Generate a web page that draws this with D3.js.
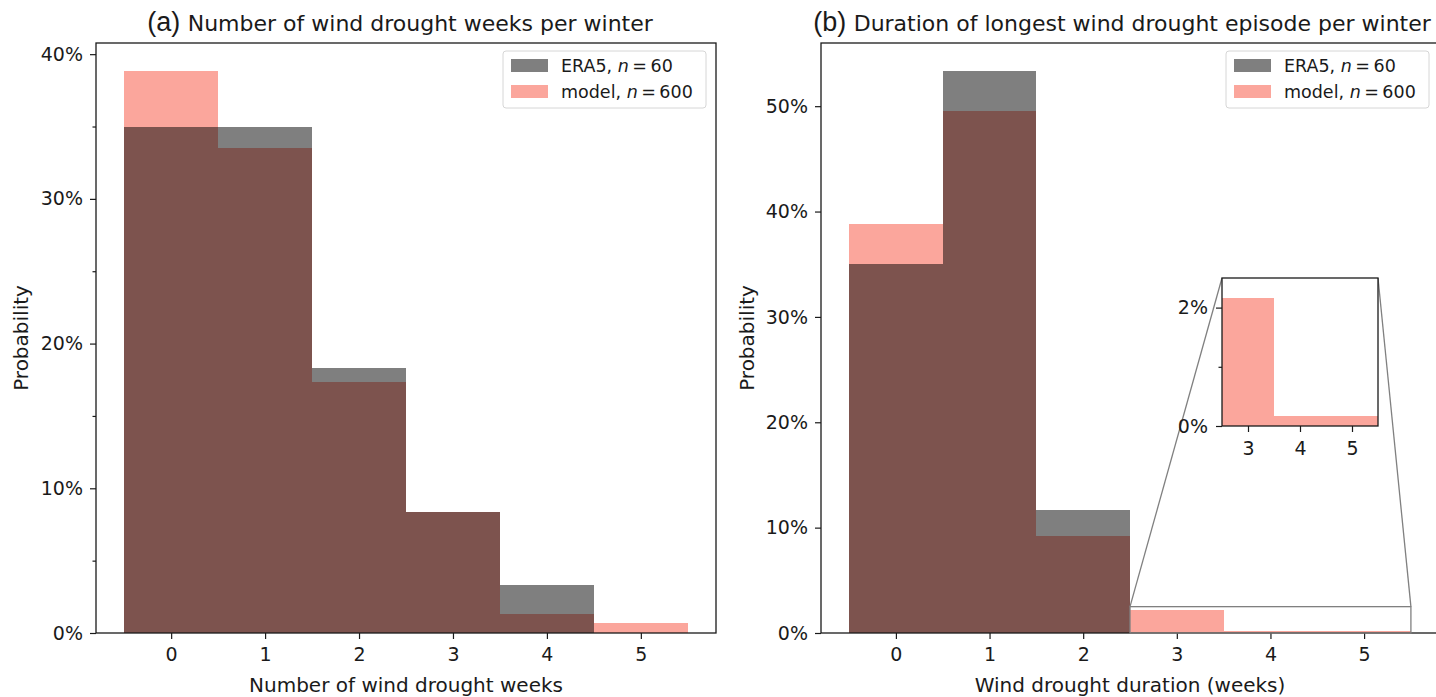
<!DOCTYPE html>
<html>
<head>
<meta charset="utf-8">
<script src="https://cdn.jsdelivr.net/npm/d3@7"></script>
<style>
  body { margin: 0; background: #fff; }
  svg text { font-family: "DejaVu Sans", sans-serif; fill: #1a1a1a; }
</style>
</head>
<body>
<svg id="chart" width="1436" height="697"></svg>
<script>
// bins (weeks)
const bins = [0, 1, 2, 3, 4, 5];

// (a) number of wind drought weeks per winter, in %
const weeksEra5 = [35.0, 35.0, 18.33, 8.33, 3.33, 0];
const weeksModel = [38.83, 33.5, 17.33, 8.33, 1.33, 0.67];

// (b) duration of longest episode, in %
const durEra5 = [35.0, 53.33, 11.67, 0, 0, 0];
const durModel = [38.83, 49.5, 9.17, 2.17, 0.17, 0.17];

const seriesNames = ["ERA5, ", "model, "];
const seriesN = [60, 600];
const era5Color = "#000000", era5Alpha = 0.5;
const modelColor = "#fa8072", modelAlpha = 0.7;

const tickFont = 19;
const svg = d3.select("#chart");

function panel(opt) {
  let g = svg.append("g");
  let x = d3.scaleLinear().domain([-0.8, 5.8]).range([opt.left, opt.right]);
  let y = d3.scaleLinear().domain([0, opt.ymax]).range([633, 43]);

  // bars: model first, ERA5 over it
  g.append("g").selectAll("rect").data(bins).join("rect")
    .attr("shape-rendering", "crispEdges")
    .attr("x", d => x(d - 0.5)).attr("width", d => x(d + 0.5) - x(d - 0.5))
    .attr("y", (d, i) => y(opt.model[i])).attr("height", (d, i) => y(0) - y(opt.model[i]))
    .attr("fill", modelColor).attr("fill-opacity", modelAlpha);
  g.append("g").selectAll("rect").data(bins).join("rect")
    .attr("shape-rendering", "crispEdges")
    .attr("x", d => x(d - 0.5)).attr("width", d => x(d + 0.5) - x(d - 0.5))
    .attr("y", (d, i) => y(opt.era5[i])).attr("height", (d, i) => y(0) - y(opt.era5[i]))
    .attr("fill", era5Color).attr("fill-opacity", era5Alpha);

  // axes
  g.append("g").attr("transform", "translate(0,633)")
    .call(d3.axisBottom(x).tickValues(bins).tickSize(6).tickPadding(9).tickFormat(d3.format("d")));
  g.append("g").attr("transform", `translate(${opt.left},0)`)
    .call(d3.axisLeft(y).tickValues(opt.yticks).tickSize(6).tickPadding(7).tickFormat(d => d + "%"));
  if (opt.minor) {
    g.append("g").attr("transform", `translate(${opt.left},0)`)
      .call(d3.axisLeft(y).tickValues(opt.minor).tickSize(3.5).tickFormat(""));
  }
  g.selectAll(".tick line").attr("stroke", "#1a1a1a").attr("stroke-width", 1.2);
  g.selectAll(".tick text").attr("font-size", tickFont).attr("fill", "#1a1a1a");
  g.selectAll(".domain").remove();

  // frame
  g.append("rect").attr("x", opt.left).attr("y", 43)
    .attr("width", opt.right - opt.left).attr("height", 590)
    .attr("fill", "none").attr("stroke", "#1a1a1a").attr("stroke-width", 1.3);

  // title
  let t = g.append("text").attr("x", (opt.left + opt.right) / 2 + opt.titleShift).attr("y", 31)
    .attr("text-anchor", "middle");
  t.append("tspan").attr("font-family", "Liberation Sans, sans-serif").attr("font-size", 27).text(opt.tag + " ");
  t.append("tspan").attr("font-size", 22).text(opt.title);

  g.append("text").attr("x", (opt.left + opt.right) / 2).attr("y", 692)
    .attr("text-anchor", "middle").attr("font-size", 20).text(opt.xlabel);
  g.append("text").attr("transform", `translate(${opt.ylabelX},338) rotate(-90)`)
    .attr("text-anchor", "middle").attr("font-size", 20).text("Probability");

  // legend
  let lg = g.append("g").attr("transform", `translate(${opt.right - 213},51)`);
  lg.append("rect").attr("width", 203).attr("height", 57).attr("rx", 3)
    .attr("fill", "#fff").attr("fill-opacity", 0.8).attr("stroke", "#d6d6d6");
  [[era5Color, era5Alpha], [modelColor, modelAlpha]].forEach((c, i) => {
    lg.append("rect").attr("x", 8).attr("y", 8 + i * 26).attr("width", 37).attr("height", 13)
      .attr("fill", c[0]).attr("fill-opacity", c[1]);
    let tx = lg.append("text").attr("x", 58).attr("y", 21 + i * 26).attr("font-size", 17.5);
    tx.append("tspan").text(seriesNames[i]);
    tx.append("tspan").attr("font-style", "italic").text("n");
    tx.append("tspan").text("\u2009=\u2009" + seriesN[i]);
  });
  return {g, x, y};
}

panel({
  left: 96, right: 716, ymax: 38.83 * 1.05,
  era5: weeksEra5, model: weeksModel,
  yticks: [0, 10, 20, 30, 40], minor: [5, 15, 25, 35],
  tag: "(a)", title: "Number of wind drought weeks per winter", titleShift: -6,
  xlabel: "Number of wind drought weeks", ylabelX: 28
});

let pb = panel({
  left: 821, right: 1439, ymax: 53.33 * 1.05,
  era5: durEra5, model: durModel,
  yticks: [0, 10, 20, 30, 40, 50], minor: null,
  tag: "(b)", title: "Duration of longest wind drought episode per winter", titleShift: -8,
  xlabel: "Wind drought duration (weeks)", ylabelX: 754
});

// inset zoom on bins 3..5 of panel (b)
const insetBins = [3, 4, 5];
const insetModel = durModel.slice(3);
const ix = d3.scaleLinear().domain([2.5, 5.5]).range([1222, 1378]);
const iy = d3.scaleLinear().domain([0, 2.5]).range([426, 278]);

// indicator box and connectors
const zoomCol = "#808080";
pb.g.append("rect").attr("x", pb.x(2.5)).attr("y", pb.y(2.5))
  .attr("width", pb.x(5.5) - pb.x(2.5)).attr("height", pb.y(0) - pb.y(2.5))
  .attr("fill", "none").attr("stroke", zoomCol).attr("stroke-width", 1.3);
pb.g.append("line").attr("x1", pb.x(2.5)).attr("y1", pb.y(2.5)).attr("x2", ix(2.5)).attr("y2", iy(2.5))
  .attr("stroke", zoomCol).attr("stroke-width", 1.3);
pb.g.append("line").attr("x1", pb.x(5.5)).attr("y1", pb.y(2.5)).attr("x2", ix(5.5)).attr("y2", iy(2.5))
  .attr("stroke", zoomCol).attr("stroke-width", 1.3);

let ig = svg.append("g");
ig.append("rect").attr("x", 1222).attr("y", 278).attr("width", 156).attr("height", 148).attr("fill", "#fff");
ig.append("g").selectAll("rect").data(insetBins).join("rect")
  .attr("shape-rendering", "crispEdges")
  .attr("x", d => ix(d - 0.5)).attr("width", d => ix(d + 0.5) - ix(d - 0.5))
  .attr("y", (d, i) => iy(insetModel[i])).attr("height", (d, i) => iy(0) - iy(insetModel[i]))
  .attr("fill", modelColor).attr("fill-opacity", modelAlpha);
ig.append("g").attr("transform", "translate(0,426)")
  .call(d3.axisBottom(ix).tickValues(insetBins).tickSize(6).tickPadding(10).tickFormat(d3.format("d")));
ig.append("g").attr("transform", "translate(1222,0)")
  .call(d3.axisLeft(iy).tickValues([0, 2]).tickSize(6).tickPadding(8).tickFormat(d => d + "%"));
ig.append("g").attr("transform", "translate(1222,0)")
  .call(d3.axisLeft(iy).tickValues([1]).tickSize(3.5).tickFormat(""));
ig.selectAll(".domain").remove();
ig.selectAll(".tick line").attr("stroke", "#1a1a1a").attr("stroke-width", 1.2);
ig.selectAll(".tick text").attr("font-size", tickFont).attr("fill", "#1a1a1a");
ig.append("rect").attr("x", 1222).attr("y", 278).attr("width", 156).attr("height", 148)
  .attr("fill", "none").attr("stroke", "#1a1a1a").attr("stroke-width", 1.3);
</script>
</body>
</html>
